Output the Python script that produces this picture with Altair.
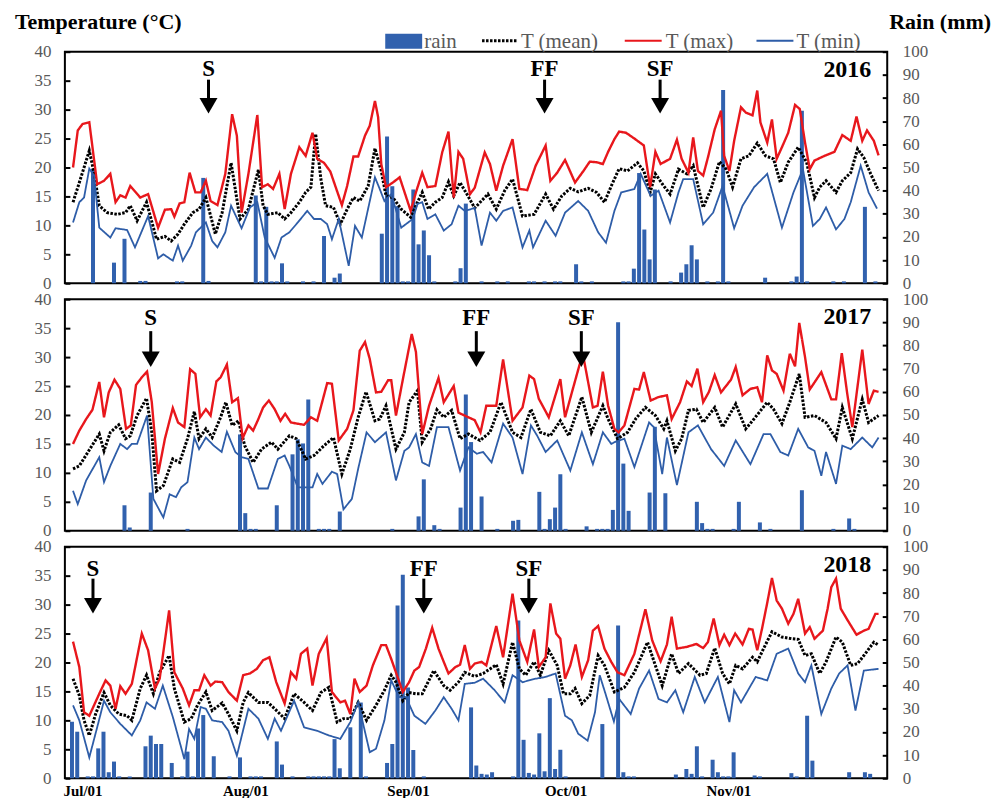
import altair as alt
import pandas as pd

SERIF = "Liberation Serif"
BAR_BLUE = "#3161AE"
RED = "#E8171C"
MIN_BLUE = "#2E5DA8"
GREY = "#595959"

# ---------------- data ----------------
YEARS = ["2016", "2017", "2018"]
SERIES = ["T (mean)", "T (max)", "T (min)"]
MONTH_LABELS = ["Jul/01", "Aug/01", "Sep/01", "Oct/01", "Nov/01"]
MONTH_DAYS = [0, 31, 62, 92, 123]          # days after Jul 1
EVENTS = ["S", "FF", "SF"]
EVENT_DAYS_2016 = [24, 88, 110]
EVENT_DAYS_2017 = [13, 75, 95]
EVENT_DAYS_2018 = [2, 65, 85]

# (day after Jul 1, degC)
TMAX_2016 = [(-1.8,20.0),(-0.9,26.4),(0,27.5),(1.3,27.8),(2.8,17.1),(4.1,17.7),(5.3,18.9),(6.3,14.0),(7.2,15.2),(8.2,14.8),(9.1,16.8),(11,14.8),(12.5,15.4),(14.4,9.6),(15.7,12.7),(16.9,12.8),(17.5,11.5),(18.5,13.8),(19.4,14.0),(20.4,19.1),(21.5,15.7),(22.5,15.7),(23.5,17.7),(24.4,14.2),(25.7,13.5),(27.2,18.9),(28.5,29.2),(29.4,25.5),(30.3,12.2),(31.6,18.9),(33.3,29.1),(34.2,16.6),(35.3,17.1),(36.3,16.3),(37.5,18.9),(38.5,12.8),(39.7,18.9),(41.3,23.5),(42.5,22.0),(43.8,26.0),(44.7,21.5),(46,20.8),(47.2,19.3),(49.4,13.5),(50.4,16.8),(51.6,21.9),(52.5,21.9),(53.8,25.5),(54.7,27.2),(55.7,31.5),(56.3,28.7),(56.9,20.6),(57.8,16.6),(59.1,17.4),(60.4,18.3),(62.5,12.5),(63.5,15.7),(64.7,19.1),(65.7,16.6),(67.2,16.8),(68.5,22.6),(69.7,26.2),(70.7,14.8),(71.6,22.7),(72.5,21.5),(73.8,15.4),(74.7,16.5),(76.6,22.6),(77.6,20.6),(78.8,16.0),(80.1,20.3),(81.9,24.9),(83.2,16.3),(84.7,16.1),(86.3,20.3),(88.2,23.8),(89.1,17.7),(90.4,19.1),(91.9,21.3),(93.8,17.4),(95.4,19.4),(96.6,21.0),(97.9,20.9),(99.1,20.6),(100.1,22.7),(101.3,24.9),(102.2,26.2),(103.5,26.0),(105.1,25.0),(106.9,23.8),(108.1,16.6),(109.1,22.7),(110.1,20.6),(111.9,21.5),(113.2,24.8),(114.1,21.5),(115.4,19.1),(116.3,25.2),(117.2,19.4),(118.2,18.6),(119.1,21.7),(120.4,26.6),(121.6,29.8),(122.2,22.0),(123.2,19.4),(124.1,24.6),(125.4,30.4),(126.3,29.5),(127.6,29.0),(128.5,33.3),(129.1,27.8),(130.4,24.3),(131.3,28.3),(132.2,21.5),(133.2,23.5),(134.4,26.0),(135.7,30.8),(136.6,30.1),(137.6,24.3),(138.5,19.7),(139.4,21.2),(141.3,22.0),(143.2,22.7),(144.7,25.6),(146.3,24.6),(147.4,28.8),(148.5,24.6),(149.4,26.4),(150.7,24.6),(151.6,22.1)]
TMEAN_2016 = [(-1.8,14.0),(-0.6,17.4),(1.3,22.9),(2.2,19.1),(3.2,13.4),(4.7,12.2),(6.6,11.9),(8.2,12.2),(9.1,13.4),(10.4,10.8),(12.2,14.0),(14.1,7.6),(15.7,8.1),(16.9,7.3),(18.2,8.5),(19.4,10.2),(21.0,12.2),(22.2,12.8),(23.5,14.8),(25.3,8.5),(26.6,12.2),(28.3,20.8),(30.0,11.1),(31.6,12.8),(33.5,19.6),(34.4,13.4),(35.3,11.9),(37.2,12.2),(38.5,11.1),(39.7,12.2),(41.3,14.0),(42.5,15.7),(43.5,16.6),(44.4,25.8),(45.4,18.0),(46.3,13.4),(47.8,13.1),(49.1,10.2),(50.4,12.8),(51.6,14.8),(52.8,14.2),(54.4,16.8),(55.7,23.3),(56.9,19.4),(57.8,15.1),(59.1,14.8),(60.7,12.8),(62.5,11.4),(63.8,14.0),(64.7,15.7),(65.9,12.8),(67.2,14.0),(68.5,14.8),(69.7,17.5),(70.7,15.1),(71.9,17.4),(73.2,15.4),(74.7,13.0),(77.2,15.4),(78.8,12.8),(80.4,16.0),(81.9,18.0),(83.8,11.6),(86.0,11.9),(88.2,15.4),(89.7,12.8),(91.3,15.1),(92.9,16.4),(94.4,15.8),(96.3,16.4),(97.9,15.7),(99.4,14.0),(100.7,16.8),(102.2,19.8),(103.8,19.4),(105.7,20.8),(106.9,19.4),(108.1,15.7),(109.1,18.9),(110.7,16.8),(111.9,15.4),(113.5,19.7),(115.1,18.9),(116.3,20.3),(118.2,13.1),(119.7,16.3),(121.3,21.0),(122.6,19.7),(123.8,16.6),(125.4,21.5),(126.9,22.0),(128.5,24.2),(130.1,22.0),(131.6,21.5),(132.9,17.4),(134.4,20.9),(136.3,23.5),(137.9,20.9),(139.4,14.8),(140.4,16.6),(141.6,17.7),(143.5,15.7),(144.7,17.7),(146.3,19.1),(147.6,23.2),(148.8,21.7),(150.1,18.9),(151.6,16.0)]
TMIN_2016 = [(-1.8,10.5),(-0.6,14.0),(0.3,14.8),(1.3,19.8),(2.2,18.6),(3.2,9.6),(5.3,7.9),(6.3,9.5),(8.5,9.2),(10.0,6.2),(12.5,11.6),(14.4,4.3),(15.4,5.0),(17.2,3.9),(18.2,6.5),(19.1,3.9),(20.7,6.5),(21.6,8.8),(23.5,10.5),(24.7,7.3),(25.7,6.2),(27.2,8.8),(28.3,13.4),(30.3,9.5),(31.9,13.1),(33.3,14.0),(34.7,7.9),(36.6,4.4),(37.9,7.9),(39.4,8.8),(41.0,10.5),(42.8,12.5),(44.1,11.1),(45.4,11.1),(46.6,10.2),(47.5,7.6),(48.8,11.1),(50.7,3.0),(51.9,9.9),(53.2,7.9),(55.7,18.3),(56.6,16.3),(57.5,14.2),(58.8,15.4),(60.7,9.6),(62.9,11.1),(63.8,13.7),(64.7,14.0),(65.7,11.1),(67.2,11.9),(68.8,9.1),(70.3,10.2),(71.6,13.4),(72.8,12.5),(74.7,13.0),(76.0,6.5),(77.6,12.2),(78.8,10.8),(80.1,12.5),(81.9,13.1),(83.8,6.2),(85.1,9.1),(85.8,6.2),(88.2,10.8),(90.1,8.2),(91.9,12.2),(94.4,14.2),(96.3,12.5),(98.2,8.8),(99.7,7.0),(101.3,12.5),(102.6,15.7),(105.1,16.3),(106.3,18.9),(108.2,15.1),(109.7,16.0),(111.9,10.5),(113.5,15.7),(114.4,18.0),(116.3,18.0),(118.2,10.2),(120.1,12.2),(121.9,16.8),(124.1,9.5),(125.7,13.4),(127.9,16.6),(130.4,18.9),(133.2,9.6),(135.4,15.7),(137.2,19.7),(139.1,9.9),(140.4,11.1),(141.6,13.1),(143.5,9.3),(145.1,11.1),(146.3,14.0),(148.2,20.3),(149.7,15.7),(151.3,12.9)]
# (day after Jul 1, mm)
RAIN_2016 = [(2,49.4),(6,8.9),(8,19.2),(11,1),(12,1),(18,0.8),(19,0.8),(23,45.5),(24,1),(33,37.9),(34,0.8),(35,33.0),(36,0.8),(37,0.8),(38,8.6),(39,0.8),(42,0.8),(44,0.8),(46,20.4),(48,2.4),(49,4.2),(57,21.4),(58,63.4),(59,41.9),(60,33.3),(61,0.8),(62,0.8),(63,40.5),(64,16.8),(65,22.8),(66,12.1),(67,0.8),(71,0.8),(72,6.5),(73,34.4),(76,0.8),(79,0.8),(81,0.8),(85,0.8),(86,0.8),(88,0.8),(90,0.8),(91,0.8),(94,8.2),(95,0.8),(97,0.8),(103,0.8),(104,0.8),(105,6.3),(106,47.6),(107,23.2),(108,10.3),(109,40.5),(112,0.8),(114,4.6),(115,8.2),(116,16.4),(117,10.3),(119,0.8),(121,0.8),(122,83.5),(123,0.8),(130,2.4),(135,0.8),(136,2.9),(137,74.5),(138,0.8),(143,0.8),(145,0.8),(149,33.0),(151,0.8)]

TMAX_2017 = [(-1.8,15.0),(-0.6,17.3),(0.7,19.3),(1.9,20.9),(3.2,25.7),(4.1,19.6),(5.0,23.9),(6.1,26.1),(7.2,24.5),(8.3,17.6),(9.2,18.2),(10.2,25.2),(11.3,26.5),(12.3,27.5),(13.2,22.2),(14.4,9.8),(15.7,15.9),(17.2,21.2),(18.2,18.7),(19.4,17.9),(20.5,27.9),(21.5,27.1),(22.4,19.6),(23.5,21.0),(24.4,19.9),(25.5,25.8),(26.3,26.5),(27.5,28.7),(28.5,22.2),(29.6,22.9),(30.5,16.0),(31.6,18.2),(32.5,17.3),(33.5,19.3),(34.4,21.3),(35.5,22.5),(36.6,21.0),(37.7,19.0),(38.6,20.2),(39.7,18.7),(42.2,18.3),(43.5,19.6),(44.7,19.0),(46.6,25.5),(47.5,25.4),(48.8,15.6),(50.4,17.6),(51.6,20.8),(52.8,31.1),(53.8,32.6),(54.7,29.7),(55.9,23.9),(56.9,24.0),(58.2,26.0),(58.8,26.0),(59.7,19.9),(61.0,26.1),(62.7,34.0),(63.5,30.9),(64.7,16.7),(66.0,21.6),(67.8,26.4),(68.8,22.2),(70.7,25.0),(71.6,20.4),(73.5,19.6),(74.7,19.1),(75.8,17.0),(76.9,21.6),(78.8,21.6),(80.1,29.6),(81.9,19.0),(83.8,21.3),(85.1,26.8),(86.0,26.2),(86.9,22.8),(88.8,19.6),(91.0,26.2),(91.9,19.6),(93.2,23.9),(94.7,28.8),(95.4,30.0),(97.2,21.3),(98.1,21.6),(99.1,27.5),(100.1,21.6),(101.3,17.6),(102.1,17.0),(103.2,18.2),(105.1,24.5),(106.0,24.4),(106.9,27.4),(108.2,22.5),(109.7,23.1),(111.3,23.4),(112.2,19.3),(113.8,22.2),(115.1,25.8),(116.0,25.0),(117.1,28.0),(118.2,22.2),(119.3,24.0),(120.4,26.9),(121.6,23.9),(123.5,26.1),(124.4,28.3),(125.7,23.4),(127.2,24.5),(128.5,24.8),(129.4,22.2),(130.4,30.3),(131.3,27.7),(132.2,27.1),(133.5,24.2),(134.7,30.6),(135.7,28.4),(136.5,35.9),(137.6,30.0),(138.5,24.4),(140.7,27.4),(142.6,22.7),(143.5,22.7),(144.6,30.7),(145.6,23.9),(146.6,17.9),(148.5,31.3),(149.7,21.9),(150.7,24.2),(151.6,24.0)]
TMEAN_2017 = [(-1.8,10.7),(-0.6,11.2),(1.6,14.4),(3.2,16.7),(4.1,13.8),(5.3,17.0),(6.9,18.3),(8.2,15.9),(9.1,16.4),(10.4,19.9),(12.2,22.9),(13.2,17.0),(14.1,6.9),(15.4,7.8),(17.2,12.4),(18.5,11.8),(20.0,15.9),(21.3,20.6),(22.2,15.9),(23.5,17.6),(24.7,16.1),(26.3,19.6),(27.3,22.2),(28.5,18.2),(29.7,19.0),(30.9,14.7),(32.5,11.8),(34.1,14.1),(36.0,15.3),(37.2,14.1),(39.4,16.4),(40.7,15.9),(42.5,12.4),(44.1,13.0),(46.0,14.7),(47.8,16.1),(49.4,9.8),(51.0,14.1),(52.5,19.6),(54.0,24.0),(55.7,19.0),(56.6,19.3),(57.8,21.6),(59.7,14.1),(61.3,17.0),(62.2,22.2),(63.8,24.2),(64.7,15.3),(66.3,17.6),(67.5,20.9),(68.8,19.6),(70.3,20.8),(71.9,15.9),(73.5,16.7),(75.7,15.6),(77.6,17.0),(79.7,22.2),(81.9,17.0),(83.5,16.1),(85.4,21.0),(87.2,17.0),(89.1,16.4),(91.0,19.0),(92.6,16.4),(95.1,23.1),(96.9,17.0),(99.1,21.6),(100.1,19.3),(101.9,15.9),(103.8,17.0),(105.4,19.4),(107.2,21.3),(109.1,19.9),(110.7,17.6),(111.3,19.0),(112.9,13.8),(114.1,15.9),(115.4,20.8),(116.9,21.0),(118.2,18.7),(120.4,21.3),(121.9,17.9),(124.4,21.9),(126.3,17.6),(127.6,19.0),(130.4,22.2),(131.6,21.0),(133.2,18.5),(134.7,22.2),(136.5,27.1),(137.6,19.6),(139.4,19.9),(141.6,18.7),(143.5,15.9),(144.7,21.3),(146.6,15.9),(148.5,22.7),(149.7,18.7),(151.6,19.9)]
TMIN_2017 = [(-1.8,6.9),(-0.9,4.6),(0.7,8.7),(3.2,12.7),(4.1,8.4),(5.3,11.2),(7.2,15.0),(8.5,14.1),(9.4,15.0),(10.4,15.0),(12.3,19.9),(13.5,5.5),(15.4,2.3),(16.6,6.3),(17.8,5.8),(18.8,7.5),(20.0,8.4),(21.3,16.1),(22.2,14.1),(23.5,16.1),(25.0,14.7),(26.5,13.6),(27.5,17.1),(29.1,13.6),(30.3,12.7),(31.6,12.4),(33.5,7.3),(35.3,7.3),(37.2,12.4),(38.5,13.0),(39.4,11.2),(41.0,7.5),(43.8,7.5),(44.7,9.8),(45.7,8.1),(47.5,10.2),(48.5,9.8),(49.7,3.7),(51.3,5.5),(52.5,10.7),(54.1,17.0),(55.7,15.3),(57.8,17.0),(59.7,8.7),(61.3,13.8),(62.2,14.4),(63.5,16.7),(64.7,11.8),(66.0,11.2),(67.5,17.9),(69.7,17.9),(71.9,10.4),(73.5,14.4),(75.1,13.3),(76.3,13.6),(77.9,11.8),(80.1,18.5),(81.9,16.1),(83.8,9.8),(85.4,18.2),(86.6,16.4),(88.2,13.6),(90.4,15.6),(92.9,10.4),(95.1,17.0),(97.2,11.5),(99.1,17.0),(100.7,15.0),(101.3,15.3),(103.2,15.9),(105.1,11.0),(107.9,18.7),(108.8,17.9),(110.4,9.8),(111.3,16.1),(113.2,7.9),(115.4,17.0),(117.2,18.2),(119.7,14.1),(122.2,11.2),(124.4,15.6),(127.2,11.5),(129.7,16.7),(131.0,16.7),(132.9,13.6),(134.4,13.0),(136.3,17.6),(138.2,14.4),(139.4,13.8),(140.7,9.5),(141.6,13.6),(143.5,8.1),(144.7,14.7),(146.3,14.1),(148.5,16.1),(150.4,14.4),(151.6,16.1)]
RAIN_2017 = [(8,11.0),(9,1.4),(13,16.5),(20,0.8),(30,41.6),(31,7.6),(32,0.8),(33,0.8),(37,11.0),(40,33.0),(41,39.5),(42,37.7),(43,56.7),(45,0.8),(46,0.8),(47,0.8),(49,8.3),(59,0.8),(64,6.2),(65,22.2),(67,2.4),(68,0.8),(72,10.0),(73,58.8),(74,38.3),(76,14.8),(79,0.8),(82,4.3),(83,4.7),(87,16.8),(88,0.8),(89,5.0),(90,10.0),(91,24.4),(92,0.8),(96,1.9),(98,0.8),(99,0.8),(100,0.8),(101,9.0),(102,90.1),(103,29.0),(104,8.6),(108,16.5),(109,44.9),(111,16.2),(117,12.5),(118,3.3),(119,0.8),(120,0.8),(124,0.8),(125,12.5),(129,3.6),(131,0.8),(137,17.5),(143,0.8),(146,5.3),(147,0.8)]

TMAX_2018 = [(-1.8,23.6),(-0.6,19.2),(0.3,11.4),(1.3,10.8),(2.2,12.6),(3.2,14.6),(4.4,16.9),(5.3,16.0),(6.3,12.0),(7.2,15.9),(8.2,14.6),(9.4,16.3),(11.3,25.0),(12.5,22.1),(13.8,15.5),(14.7,17.2),(16.5,29.0),(17.5,18.3),(19.1,15.5),(20.3,12.6),(21.3,15.2),(22.2,15.2),(23.2,17.8),(24.4,16.0),(25.3,16.7),(26.6,16.6),(27.8,14.9),(29.4,13.4),(30.6,17.8),(31.9,18.1),(33.2,18.9),(34.4,20.4),(35.6,20.9),(36.9,16.6),(38.5,12.9),(39.7,18.3),(40.7,17.2),(41.6,21.5),(42.8,22.4),(43.8,16.0),(45.0,21.5),(46.5,24.2),(47.5,14.9),(49.1,13.1),(50.0,13.4),(51.0,11.1),(51.8,17.2),(52.8,14.9),(54.1,16.0),(55.3,19.5),(56.9,23.0),(57.8,23.0),(58.8,20.6),(60.0,17.5),(61.0,14.9),(62.2,16.6),(63.2,18.6),(64.1,19.2),(65.4,22.4),(66.6,26.0),(67.8,22.4),(68.8,20.1),(69.7,18.1),(71.0,19.2),(71.9,19.6),(72.8,23.0),(73.8,18.9),(74.7,19.8),(76.0,20.1),(76.9,19.5),(78.8,26.3),(80.1,20.9),(81.9,31.9),(83.2,23.8),(84.7,20.1),(86.0,25.7),(86.9,19.2),(88.2,20.9),(89.1,30.2),(90.2,25.0),(91.0,24.1),(91.9,17.2),(92.9,19.5),(93.9,23.1),(95.1,17.5),(96.3,20.4),(97.2,25.5),(98.2,26.3),(99.4,22.4),(100.7,20.1),(101.9,18.3),(103.2,17.8),(105.1,21.5),(107.2,29.2),(108.5,23.8),(110.1,20.2),(111.3,23.1),(112.2,27.9),(113.2,22.4),(115.1,22.7),(116.9,23.2),(118.2,22.5),(119.1,23.5),(120.2,27.6),(121.3,23.0),(122.2,24.8),(123.2,23.0),(124.3,25.0),(125.7,23.1),(126.9,25.8),(127.6,25.7),(128.5,22.1),(129.4,25.8),(130.4,30.3),(131.3,34.6),(132.2,30.7),(133.2,29.3),(134.4,26.7),(135.4,28.4),(136.3,31.0),(137.6,25.0),(138.5,26.1),(139.4,24.1),(141.0,25.5),(141.9,29.3),(142.6,33.0),(143.5,34.5),(144.4,29.3),(145.7,27.3),(147.4,24.8),(148.8,25.5),(149.7,25.8),(151.0,28.4),(151.6,28.4)]
TMEAN_2018 = [(-1.8,17.2),(-0.6,14.3),(0.3,10.0),(1.3,7.4),(2.5,11.1),(4.1,14.8),(5.3,12.6),(6.9,11.1),(8.5,10.8),(9.4,10.0),(11.0,15.5),(12.2,17.8),(13.5,14.6),(14.7,18.3),(16.5,21.2),(17.5,15.5),(19.4,9.7),(20.7,10.3),(21.9,12.6),(23.5,14.9),(24.7,11.7),(26.6,13.0),(27.8,11.1),(29.4,8.2),(30.6,13.1),(31.6,14.8),(33.5,13.1),(35.3,13.1),(36.6,12.0),(38.5,10.3),(40.3,14.6),(42.2,13.1),(43.8,11.7),(45.4,14.8),(46.9,15.7),(48.5,9.7),(49.7,10.3),(51.0,10.3),(52.5,13.1),(54.1,10.0),(55.9,12.6),(57.5,15.2),(58.8,17.8),(59.7,16.6),(61.0,13.4),(62.2,14.8),(63.5,14.6),(64.7,14.6),(66.9,18.6),(68.8,16.0),(70.0,15.2),(71.6,16.6),(72.8,18.3),(74.7,17.6),(76.3,18.1),(78.8,19.6),(80.1,16.3),(81.9,23.5),(83.2,18.9),(84.4,17.8),(86.0,20.1),(87.2,17.8),(88.8,22.1),(90.4,19.5),(91.6,14.6),(92.9,14.6),(93.8,15.5),(95.1,12.9),(96.6,14.3),(98.2,21.2),(99.4,19.5),(101.3,14.9),(103.2,15.7),(105.1,18.3),(107.6,23.5),(110.4,16.0),(112.2,21.5),(113.5,18.1),(115.4,19.8),(117.6,17.8),(118.8,18.1),(120.4,22.5),(121.9,18.1),(123.2,16.3),(124.4,19.5),(125.7,18.9),(127.6,20.9),(128.5,20.1),(129.7,22.4),(131.3,25.3),(133.2,24.4),(135.1,24.1),(136.3,24.0),(137.6,21.2),(138.8,21.5),(140.4,18.1),(141.6,20.1),(143.5,24.4),(144.7,23.5),(146.3,19.5),(147.6,19.8),(148.8,21.2),(150.7,23.5),(151.6,23.0)]
TMIN_2018 = [(-1.8,12.6),(-0.6,10.0),(1.3,3.6),(2.8,8.8),(4.1,13.4),(5.3,11.4),(7.2,9.4),(9.4,7.4),(11.0,10.0),(12.2,13.1),(13.8,12.0),(15.3,16.0),(17.2,10.6),(19.4,3.3),(20.3,8.5),(21.3,6.8),(22.5,12.3),(23.5,12.0),(24.7,10.0),(26.6,9.7),(27.8,8.2),(29.4,3.9),(31.6,12.0),(33.5,10.3),(35.3,6.8),(36.6,10.3),(37.8,8.2),(40.3,13.4),(42.2,8.8),(44.7,8.2),(46.9,7.4),(49.1,6.8),(51.0,9.7),(52.5,13.1),(54.7,4.5),(55.9,5.1),(57.5,10.0),(58.8,16.9),(60.3,14.0),(61.6,14.0),(63.2,10.8),(65.3,9.4),(67.2,11.7),(68.8,14.0),(70.3,12.0),(71.6,10.0),(72.8,16.3),(74.7,16.5),(76.3,17.2),(78.5,15.2),(80.4,13.1),(81.9,17.8),(83.8,16.6),(86.3,17.2),(88.2,17.5),(90.1,18.1),(91.9,10.8),(93.2,10.0),(94.4,7.7),(96.2,6.5),(97.6,11.4),(98.5,17.8),(99.7,14.3),(101.2,9.8),(102.2,13.7),(104.4,11.1),(106.0,15.5),(107.9,18.6),(109.7,13.7),(111.3,13.1),(112.9,15.2),(114.4,11.4),(116.6,17.5),(118.5,13.1),(121.0,17.5),(123.2,9.7),(124.1,15.2),(125.4,13.1),(128.2,17.5),(130.4,16.9),(132.2,21.5),(134.4,22.4),(136.3,18.1),(137.6,16.6),(138.8,19.5),(140.7,11.1),(142.6,15.5),(144.1,18.1),(145.7,19.5),(147.2,11.7),(148.8,18.6),(151.6,18.9)]
RAIN_2018 = [(-2,24.4),(-1,20.1),(1,0.8),(2,0.8),(3,12.9),(4,20.1),(5,2.6),(6,7.2),(7,0.8),(9,0.8),(12,13.8),(13,18.4),(14,14.8),(15,14.8),(17,6.6),(19,0.8),(20,11.5),(21,0.8),(22,21.5),(23,27.3),(25,9.5),(28,0.8),(30,9.0),(32,0.8),(33,0.8),(34,0.8),(37,15.9),(38,5.9),(40,0.8),(43,0.8),(44,0.8),(45,0.8),(46,0.8),(47,0.8),(48,16.9),(49,4.3),(51,22.0),(53,32.7),(54,0.8),(58,6.6),(59,14.8),(60,74.6),(61,87.9),(62,39.2),(63,12.2),(65,0.8),(74,30.6),(75,5.5),(76,1.9),(77,1.6),(78,2.6),(82,0.8),(83,68.1),(84,16.6),(85,2.3),(86,1.6),(87,19.4),(88,3.0),(89,34.6),(90,4.0),(91,12.3),(92,0.8),(99,23.4),(102,66.0),(103,2.6),(104,0.8),(105,0.8),(113,1.6),(115,4.0),(116,1.9),(117,13.8),(118,0.8),(120,8.0),(121,2.6),(122,0.8),(123,0.8),(124,11.2),(128,1.2),(129,0.8),(135,2.2),(136,0.8),(138,27.0),(139,7.6),(146,2.6),(149,2.6),(150,1.9)]

# ---------------- helpers ----------------
ONE = pd.DataFrame({"k": [0]})
X_DOMAIN = [-2.4, 152.3]
W, H = 824, 232


def temp_frame(tmean, tmax, tmin):
    rows = []
    for name, pts in zip(SERIES, [tmean, tmax, tmin]):
        for d, v in pts:
            rows.append({"day": d, "t": v, "series": name})
    return pd.DataFrame(rows)


def fixed_text(txt, x, y, size, weight="normal", color="black", align="left",
               baseline="alphabetic", opacity=1.0):
    return alt.Chart(ONE).mark_text(
        text=txt, font=SERIF, fontSize=size, fontWeight=weight, color=color,
        align=align, baseline=baseline, opacity=opacity
    ).encode(x=alt.value(x), y=alt.value(y))


labels_js = "[" + ",".join("'%s'" % s for s in MONTH_LABELS) + "]"
ticks_js = "[" + ",".join(str(d) for d in MONTH_DAYS) + "]"


def panel(year, tmean, tmax, tmin, rain, event_days, show_x, text_y, tip_y, rule_y, first=False):
    xscale = alt.Scale(domain=X_DOMAIN, nice=False, zero=False)
    if show_x:
        xaxis = alt.Axis(values=MONTH_DAYS, labelExpr=f"{labels_js}[indexof({ticks_js}, datum.value)]",
                         title=None, grid=False, domain=False, ticks=False, tickSize=0,
                         labelFont=SERIF, labelFontWeight="bold", labelFontSize=15,
                         labelColor="black", labelPadding=5, labelFlush=False)
    else:
        xaxis = None

    rain_df = pd.DataFrame(rain, columns=["day", "rain"])
    bars = alt.Chart(rain_df).mark_bar(size=4, color=BAR_BLUE).encode(
        x=alt.X("day:Q", scale=xscale, axis=xaxis),
        y=alt.Y("rain:Q", scale=alt.Scale(domain=[0, 100], nice=False),
                axis=alt.Axis(orient="right", values=list(range(0, 101, 10)), title=None,
                              grid=False, domain=False, ticks=True, tickSize=5, tickWidth=2,
                              tickColor="black", offset=-5, labelPadding=15,
                              labelFont=SERIF, labelFontSize=17, labelColor=GREY)),
    )

    lines = alt.Chart(temp_frame(tmean, tmax, tmin)).mark_line(strokeCap="butt").encode(
        x=alt.X("day:Q", scale=xscale, axis=xaxis),
        y=alt.Y("t:Q", scale=alt.Scale(domain=[0, 40], nice=False),
                axis=alt.Axis(orient="left", values=list(range(0, 41, 5)), title=None,
                              grid=False, domain=False, ticks=True, tickSize=5, tickWidth=2,
                              tickColor="black", offset=-5, labelPadding=14,
                              labelFont=SERIF, labelFontSize=17, labelColor=GREY)),
        color=alt.Color("series:N", scale=alt.Scale(domain=SERIES, range=["black", RED, MIN_BLUE]),
                        legend=None),
        strokeDash=alt.StrokeDash("series:N", scale=alt.Scale(domain=SERIES, range=[[2.5, 1.5], [1, 0], [1, 0]]),
                                  legend=None),
        strokeWidth=alt.StrokeWidth("series:N", scale=alt.Scale(domain=SERIES, range=[3, 1.8, 1.5]),
                                    legend=None),
        detail="series:N",
    )

    ev_df = pd.DataFrame({"day": event_days, "label": EVENTS})
    ev_text = alt.Chart(ev_df).mark_text(font=SERIF, fontSize=23, fontWeight="bold",
                                         color="black", baseline="middle").encode(
        x=alt.X("day:Q", scale=xscale, axis=xaxis), y=alt.value(text_y), text="label:N")
    ev_rule = alt.Chart(ev_df).mark_rule(color="black", strokeWidth=3).encode(
        x=alt.X("day:Q", scale=xscale, axis=xaxis), y=alt.value(rule_y[0]), y2=alt.value(rule_y[1]))
    ev_head = alt.Chart(ev_df).mark_point(shape="triangle-down", filled=True, size=324,
                                          color="black", opacity=1, strokeWidth=0).encode(
        x=alt.X("day:Q", scale=xscale, axis=xaxis), y=alt.value(tip_y - 7.8))

    year_txt = fixed_text(year, 808, 18, 24, weight="bold", align="right", baseline="middle")

    layers = [bars, lines, ev_rule, ev_head, ev_text, year_txt]

    if first:
        layers += [
            fixed_text("Temperature (°C)", -50, -23, 22, weight="bold"),
            fixed_text("Rain (mm)", 928, -23, 22, weight="bold", align="right"),
            alt.Chart(ONE).mark_rect(color=BAR_BLUE).encode(
                x=alt.value(321), x2=alt.value(358), y=alt.value(-18), y2=alt.value(-3)),
            fixed_text("rain", 360, -4, 21, color=GREY),
            alt.Chart(ONE).mark_rule(color="black", strokeWidth=3, strokeDash=[2.5, 1.5]).encode(
                x=alt.value(418), x2=alt.value(453), y=alt.value(-11)),
            fixed_text("T (mean)", 457, -4, 21, color=GREY),
            alt.Chart(ONE).mark_rule(color=RED, strokeWidth=2).encode(
                x=alt.value(561), x2=alt.value(598), y=alt.value(-11)),
            fixed_text("T (max)", 602, -4, 21, color=GREY),
            alt.Chart(ONE).mark_rule(color=MIN_BLUE, strokeWidth=2).encode(
                x=alt.value(693), x2=alt.value(730), y=alt.value(-11)),
            fixed_text("T (min)", 733, -4, 21, color=GREY),
        ]
    else:
        # invisible spacer so every panel has the same left extent
        layers.append(alt.Chart(ONE).mark_rule(opacity=0).encode(
            x=alt.value(-50), x2=alt.value(-40), y=alt.value(100)))

    return alt.layer(*layers).resolve_scale(y="independent").properties(width=W, height=H)


p1 = panel(YEARS[0], TMEAN_2016, TMAX_2016, TMIN_2016, RAIN_2016, EVENT_DAYS_2016,
           False, 17.5, 62, (28, 47), first=True)
p2 = panel(YEARS[1], TMEAN_2017, TMAX_2017, TMIN_2017, RAIN_2017, EVENT_DAYS_2017,
           False, 18.5, 68, (32, 53))
p3 = panel(YEARS[2], TMEAN_2018, TMAX_2018, TMIN_2018, RAIN_2018, EVENT_DAYS_2018,
           True, 22, 67, (32, 52))

chart = alt.vconcat(p1, p2, p3, spacing=-3).properties(
    padding={"left": 6, "top": 1, "right": 5, "bottom": 1}
).configure_view(stroke="black", strokeWidth=2).configure_axis(labelOverlap=False)

chart.save("out.html", embed_options={"renderer": "svg", "actions": False})
